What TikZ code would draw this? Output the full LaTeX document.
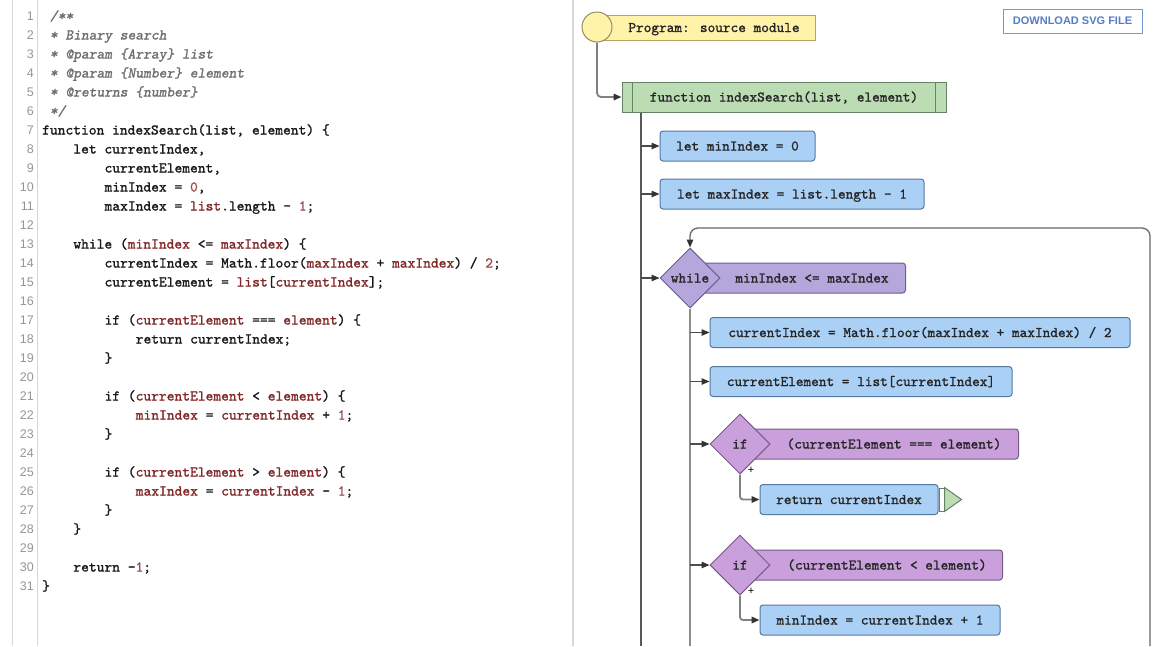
\documentclass[tikz,border=0pt]{standalone}
\usepackage{fontspec}
\usetikzlibrary{shapes.geometric,arrows.meta,calc}
\newfontfamily\codefont{lmmono10-regular.otf}[ItalicFont=lmmonoslant10-regular.otf, RawFeature={embolden=1.3}]
\newfontfamily\numfont{Liberation Sans}
\definecolor{cvar}{RGB}{128,40,40}
\definecolor{cnum}{RGB}{155,80,80}
\definecolor{cmtgray}{RGB}{110,110,110}
\definecolor{lngray}{RGB}{150,150,150}
\definecolor{guttergray}{RGB}{215,215,215}
\definecolor{yellowfill}{RGB}{255,243,170}
\definecolor{yellowdraw}{RGB}{180,165,90}
\definecolor{circdraw}{RGB}{150,140,100}
\definecolor{greenfill}{RGB}{188,221,180}
\definecolor{greendraw}{RGB}{100,130,100}
\definecolor{bluefill}{RGB}{170,208,245}
\definecolor{bluedraw}{RGB}{85,120,160}
\definecolor{whilefill}{RGB}{181,166,220}
\definecolor{whiledraw}{RGB}{110,95,140}
\definecolor{iffill}{RGB}{201,160,220}
\definecolor{ifdraw}{RGB}{120,90,135}
\definecolor{btnblue}{RGB}{85,125,195}
\newcommand\CodeVar[1]{\textcolor{cvar}{#1}}
\newcommand\CodeNum[1]{\textcolor{cnum}{#1}}
\begin{document}
\begin{tikzpicture}[x=1pt,y=-1pt,
  codeline/.style={anchor=base west, inner sep=0pt, font=\codefont\fontsize{14.8}{16}\selectfont, text=black!90},
  cmt/.style={anchor=base west, inner sep=0pt, font=\codefont\itshape\fontsize{14.8}{16}\selectfont, text=cmtgray},
  lnum/.style={anchor=base east, inner sep=0pt, font=\numfont\fontsize{12.5}{14}\selectfont, text=lngray},
  ftxt/.style={font=\codefont\fontsize{14.6}{16}\selectfont, text=black!85, text height=9pt, text depth=0pt, inner sep=0pt},
  bluebox/.style={ftxt, draw=bluedraw, fill=bluefill, rounded corners=3pt, minimum height=30pt, line width=1pt},
  progbox/.style={draw=yellowdraw, fill=yellowfill, line width=1pt, inner sep=0pt},
  fnbox/.style={ftxt, draw=greendraw, fill=greenfill, line width=1pt, minimum height=30pt},
  fnline/.style={draw=greendraw, line width=1pt},
  wbox/.style={draw=whiledraw, fill=whilefill, rounded corners=3pt, line width=1pt, inner sep=0pt, minimum height=30pt},
  ibox/.style={draw=ifdraw, fill=iffill, rounded corners=3pt, line width=1pt, inner sep=0pt, minimum height=30pt},
  wdia/.style={ftxt, diamond, draw=whiledraw, fill=whilefill, line width=1pt, minimum width=60pt, minimum height=60pt},
  idia/.style={ftxt, diamond, draw=ifdraw, fill=iffill, line width=1pt, minimum width=60pt, minimum height=60pt},
  tip/.style={-{Triangle[length=8pt,width=6.5pt,color=black!80]}},
  conn/.style={tip, draw=black!50, line width=1.8pt},
  br/.style={tip, draw=black!70, line width=1.2pt},
  trunk/.style={draw=black!65, line width=1.3pt},
  trunk2/.style={draw=black!45, line width=2pt},
  loopline/.style={tip, draw=black!60, line width=1.3pt},
  plus/.style={font=\numfont\fontsize{11}{12}\selectfont, inner sep=0pt}
]
\useasboundingbox (0,0) rectangle (1156,646);
\fill[white] (0,0) rectangle (1156,646);

% editor gutter and divider
\draw[guttergray, line width=1pt] (12,0) -- (12,646);
\draw[guttergray, line width=1pt] (37,0) -- (37,646);
\draw[black!15, line width=1.2pt] (573,0) -- (573,646);

% line numbers
\foreach \i in {1,...,31} {
  \node[lnum] (ln\i) at (34,{20.5+(\i-1)*19}) {\i};
}

% code
\node[cmt] (c1) at (49.8,20.5) {/**};
\node[cmt] (c2) at (49.8,39.5) {* Binary search};
\node[cmt] (c3) at (49.8,58.5) {* @param \{Array\} list};
\node[cmt] (c4) at (49.8,77.5) {* @param \{Number\} element};
\node[cmt] (c5) at (49.8,96.5) {* @returns \{number\}};
\node[cmt] (c6) at (49.8,115.5) {*/};
\node[codeline] (c7) at (42,134.5) {function indexSearch(list, element) \{};
\node[codeline] (c8) at (73.2,153.5) {let currentIndex,};
\node[codeline] (c9) at (104.4,172.5) {currentElement,};
\node[codeline] (c10) at (104.4,191.5) {minIndex = \CodeNum{0},};
\node[codeline] (c11) at (104.4,210.5) {maxIndex = \CodeVar{list}.length - \CodeNum{1};};
\node[codeline] (c13) at (73.2,248.5) {while (\CodeVar{minIndex} <= \CodeVar{maxIndex}) \{};
\node[codeline] (c14) at (104.4,267.5) {currentIndex = Math.floor(\CodeVar{maxIndex} + \CodeVar{maxIndex}) / \CodeNum{2};};
\node[codeline] (c15) at (104.4,286.5) {currentElement = \CodeVar{list}[\CodeVar{currentIndex}];};
\node[codeline] (c17) at (104.4,324.5) {if (\CodeVar{currentElement} === \CodeVar{element}) \{};
\node[codeline] (c18) at (135.6,343.5) {return currentIndex;};
\node[codeline] (c19) at (104.4,362.5) {\}};
\node[codeline] (c21) at (104.4,400.5) {if (\CodeVar{currentElement} < \CodeVar{element}) \{};
\node[codeline] (c22) at (135.6,419.5) {\CodeVar{minIndex} = \CodeVar{currentIndex} + \CodeNum{1};};
\node[codeline] (c23) at (104.4,438.5) {\}};
\node[codeline] (c25) at (104.4,476.5) {if (\CodeVar{currentElement} > \CodeVar{element}) \{};
\node[codeline] (c26) at (135.6,495.5) {\CodeVar{maxIndex} = \CodeVar{currentIndex} - \CodeNum{1};};
\node[codeline] (c27) at (104.4,514.5) {\}};
\node[codeline] (c28) at (73.2,533.5) {\}};
\node[codeline] (c30) at (73.2,571.5) {return -\CodeNum{1};};
\node[codeline] (c31) at (42,590.5) {\}};

% download button
\node[draw=btnblue!80, line width=1pt, minimum width=139pt, minimum height=24pt, inner sep=0pt,
      font=\numfont\bfseries\fontsize{11}{12}\selectfont, text=btnblue] (btn) at (1072.5,21) {DOWNLOAD SVG FILE};

% program
\node[progbox, minimum width=215pt, minimum height=25pt] (prog) at (707.5,27.5) {};
\node[ftxt] (progt) at (714,27.5) {Program: source module};
\node[circle, draw=circdraw, fill=yellowfill, minimum size=30pt, inner sep=0pt, line width=1pt] (start) at (597,27) {};

% function
\node[fnbox, minimum width=324pt] (fn) at (784,97) {function indexSearch(list, element)};
\draw[fnline] ([xshift=11pt]fn.north west) -- ([xshift=11pt]fn.south west);
\draw[fnline] ([xshift=-11pt]fn.north east) -- ([xshift=-11pt]fn.south east);
\draw[conn, rounded corners=4pt] (start.south) |- (fn.west);

% outer trunk
\coordinate (ta) at (641,646);
\draw[trunk] (ta |- fn.south) -- (ta);

\node[bluebox, minimum width=155pt] (m1) at (737.5,146) {let minIndex = 0};
\node[bluebox, minimum width=264pt] (m2) at (792,194) {let maxIndex = list.length - 1};
\draw[br] (ta |- m1.west) -- (m1.west);
\draw[br] (ta |- m2.west) -- (m2.west);

% while
\node[wbox, minimum width=205pt, anchor=west] (wc) at (700,278) {};
\node[wdia] (w) at (690,278) {while};
\node[ftxt] (wct) at (812,278) {minIndex <= maxIndex};
\draw[br] (ta |- w.west) -- (w.west);
\coordinate (lp) at (1150,646);
\coordinate (lpc) at (1150,228);
\draw[loopline, rounded corners=8pt] (lp) -- (lpc) -- (lpc -| w.north) -- (w.north);

% inner trunk
\coordinate (tb) at (690,646);
\draw[trunk2] (w.south) -- (tb);

\node[bluebox, minimum width=420pt] (b1) at (920,332.5) {currentIndex = Math.floor(maxIndex + maxIndex) / 2};
\node[bluebox, minimum width=302pt] (b2) at (861,381.5) {currentElement = list[currentIndex]};
\draw[br] (tb |- b1.west) -- (b1.west);
\draw[br] (tb |- b2.west) -- (b2.west);

% if 1
\node[ibox, minimum width=268pt, anchor=west] (i1c) at (750,444) {};
\node[idia] (i1) at (740,444) {if};
\node[ftxt] (i1t) at (894,444) {(currentElement === element)};
\draw[br] (tb |- i1.west) -- (i1.west);
\node[plus] (p1) at (751,470) {+};
\node[bluebox, minimum width=178pt] (r1) at (849,499.5) {return currentIndex};
\draw[conn, rounded corners=3pt] (i1.south) |- (r1.west);
\node[draw=greendraw, fill=white, line width=1pt, minimum width=5pt, minimum height=23pt, inner sep=0pt, anchor=west] (r1e) at (r1.east) {};
\draw[draw=greendraw, fill=greenfill, line width=1pt] (r1e.north east) -- ($(r1e.east)+(17,0)$) -- (r1e.south east) -- cycle;

% if 2
\node[ibox, minimum width=252pt, anchor=west] (i2c) at (750,565) {};
\node[idia] (i2) at (740,565) {if};
\node[ftxt] (i2t) at (887,565) {(currentElement < element)};
\draw[br] (tb |- i2.west) -- (i2.west);
\node[plus] (p2) at (751,591) {+};
\node[bluebox, minimum width=240pt] (m3) at (880,620) {minIndex = currentIndex + 1};
\draw[conn, rounded corners=3pt] (i2.south) |- (m3.west);
\end{tikzpicture}
\end{document}
